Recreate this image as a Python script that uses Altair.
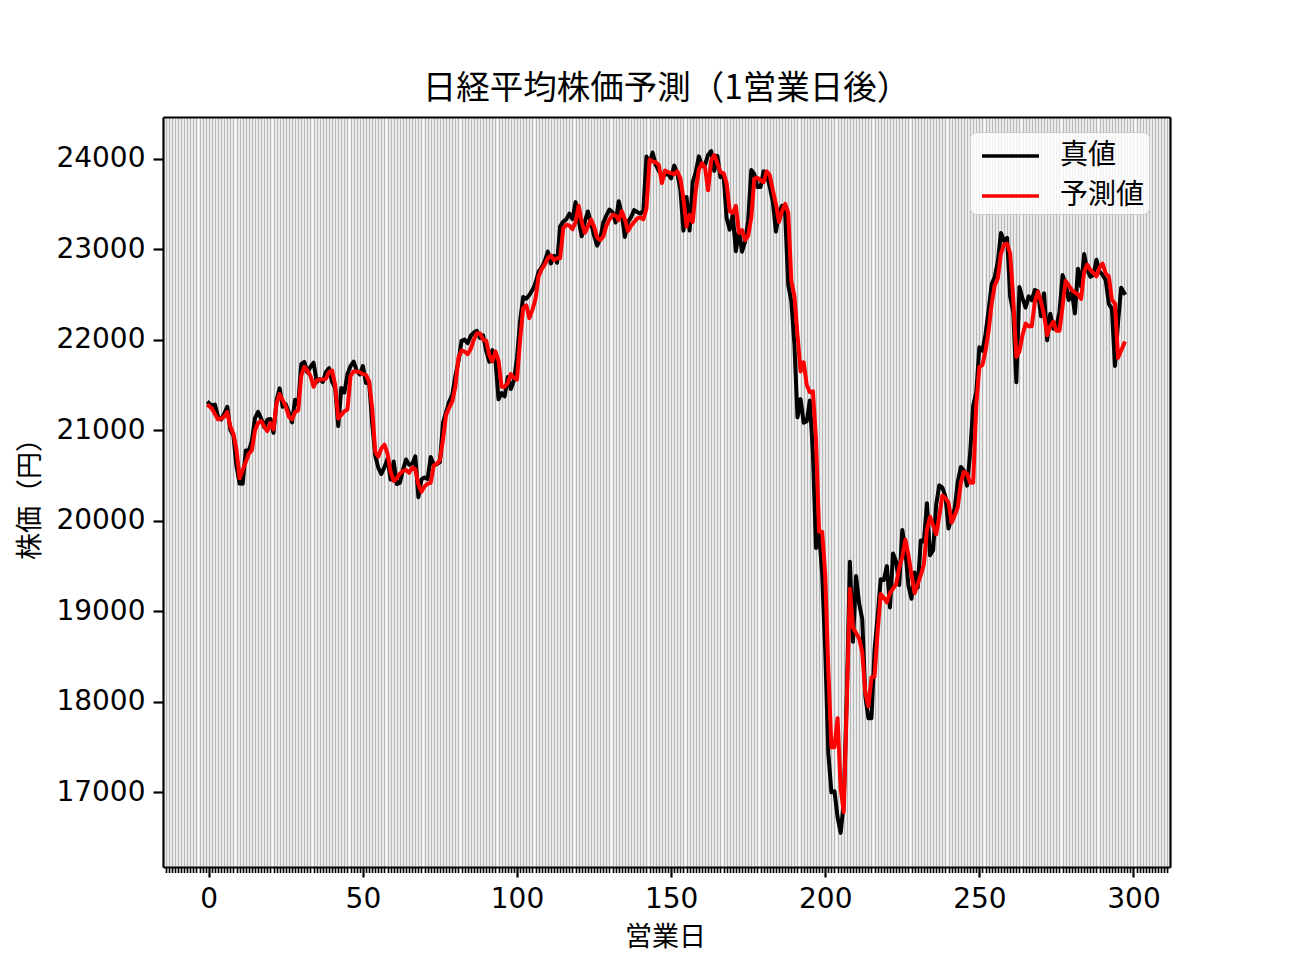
import altair as alt
import pandas as pd

# 営業日 index
days = list(range(298))

# 真値 (actual close)
true_vals = [
    21302, 21272, 21283, 21151, 21117, 21183, 21260, 21003, 20943, 20601,
    20411, 20409, 20776, 20774, 20885, 21134, 21204, 21130, 21032, 21117,
    21124, 20973, 21334, 21463, 21259, 21286, 21194, 21087, 21338, 21276,
    21730, 21754, 21638, 21702, 21746, 21534, 21565, 21533, 21644, 21686,
    21535, 21469, 21046, 21467, 21417, 21621, 21710, 21757, 21658, 21617,
    21709, 21522, 21541, 21087, 20720, 20585, 20517, 20593, 20685, 20455,
    20655, 20406, 20419, 20563, 20677, 20619, 20628, 20711, 20261, 20456,
    20479, 20461, 20704, 20620, 20625, 20649, 21086, 21200, 21318, 21392,
    21598, 21760, 21988, 22001, 21961, 22044, 22079, 22099, 22020, 22048,
    21879, 21756, 21885, 21779, 21342, 21410, 21375, 21588, 21456, 21552,
    21799, 22207, 22473, 22452, 22493, 22549, 22625, 22751, 22800, 22867,
    22974, 22843, 22927, 22851, 23252, 23304, 23330, 23392, 23332, 23520,
    23320, 23142, 23303, 23417, 23293, 23149, 23039, 23113, 23293, 23373,
    23438, 23409, 23294, 23530, 23380, 23135, 23300, 23354, 23431, 23410,
    23392, 23425, 24023, 23952, 24066, 23934, 23865, 23817, 23821, 23831,
    23783, 23925, 23838, 23657, 23205, 23576, 23205, 23740, 23851, 24025,
    23917, 23933, 24041, 24084, 23865, 24031, 23795, 23827, 23344, 23216,
    23379, 22978, 23205, 22972, 23085, 23320, 23874, 23828, 23686, 23686,
    23861, 23828, 23688, 23523, 23194, 23401, 23479, 23387, 22605, 22426,
    21948, 21143, 21344, 21083, 21100, 21329, 20750, 19699, 19867, 19416,
    18560, 17431, 17002, 17012, 16727, 16553, 16888, 18092, 19547, 18665,
    19389, 19085, 18917, 18065, 17819, 17820, 18576, 18950, 19353, 19346,
    19499, 19043, 19639, 19550, 19290, 19897, 19669, 19281, 19138, 19429,
    19262, 19783, 19771, 20194, 19619, 19675, 20179, 20391, 20366, 20267,
    19915, 20037, 20134, 20433, 20595, 20552, 20388, 20742, 21271, 21419,
    21916, 21878, 22062, 22326, 22614, 22696, 22864, 23178, 23091, 23125,
    22473, 22305, 21531, 22582, 22456, 22355, 22479, 22437, 22549, 22534,
    22260, 22512, 21995, 22288, 22122, 22146, 22306, 22714, 22615, 22439,
    22529, 22291, 22785, 22587, 22946, 22770, 22696, 22717, 22884, 22752,
    22716, 22657, 22397, 22339, 21710, 22195, 22574, 22515,
]

# 予測値 (prediction)
pred_vals = [
    21270, 21240, 21180, 21120, 21130, 21150, 21200, 21040, 20960, 20780,
    20470, 20560, 20650, 20740, 20780, 21000, 21080, 21100, 21040, 20990,
    21080, 21010, 21300, 21400, 21330, 21260, 21150, 21120, 21200, 21220,
    21600, 21700, 21660, 21600, 21480, 21550, 21560, 21560, 21570, 21640,
    21660, 21500, 21130, 21170, 21210, 21230, 21600, 21650, 21650, 21640,
    21620, 21611, 21540, 21250, 20760, 20710, 20800, 20840, 20740, 20540,
    20440, 20470, 20520, 20550, 20560, 20530, 20590, 20570, 20400, 20320,
    20380, 20410, 20420, 20610, 20630, 20670, 20900, 21170, 21250, 21320,
    21480, 21800, 21880, 21870, 21840, 21900, 22000, 22070, 22070, 22000,
    21990, 21830, 21760, 21870, 21770, 21480, 21480, 21520, 21620, 21580,
    21560, 22000, 22350, 22380, 22240, 22330, 22450, 22700, 22780, 22830,
    22900, 22930, 22880, 22900, 22900, 23230, 23270, 23260, 23220, 23300,
    23480, 23300, 23180, 23250, 23330, 23250, 23130, 23100, 23140, 23260,
    23330, 23380, 23370, 23320, 23420, 23330, 23200, 23260, 23300, 23340,
    23350, 23330, 23450, 23990, 23970, 23960, 23930, 23730, 23870, 23850,
    23840, 23830, 23860, 23780, 23560, 23250, 23380, 23300, 23650, 23880,
    23950, 23900, 23650, 23980, 24040, 23950, 23850, 23840, 23730, 23420,
    23400, 23480, 23180, 23210, 23100, 23150, 23350, 23780, 23790, 23760,
    23740, 23860, 23820, 23650, 23500, 23300, 23420, 23500, 23400, 22650,
    22480, 22050, 21650, 21750, 21500, 21420, 21430, 20900, 19880, 19880,
    19400, 18350, 17500, 17500, 17820, 17050, 16780, 18000, 19250, 18820,
    18760, 18700, 18550, 18100, 17950, 18270, 18280, 18780, 19190, 19150,
    19100, 19200, 19250, 19300, 19480, 19600, 19790, 19620, 19400, 19200,
    19300, 19400, 19520, 19900, 20045, 19950, 19850, 20050, 20280, 20250,
    20200, 19980, 20060, 20150, 20420, 20540, 20520, 20420, 20420, 21280,
    21700, 21720, 21880, 22100, 22400, 22600, 22680, 22950, 23050, 23060,
    22950, 22450, 21810, 21870, 22050, 22180, 22150, 22150, 22420, 22530,
    22420, 22270, 22050, 22150, 22200, 22100, 22100, 22370, 22650, 22600,
    22550, 22520, 22500, 22450, 22750, 22830, 22770, 22740, 22700, 22800,
    22840, 22730, 22700, 22440, 22400, 21800, 21880, 21960,
]

series_names = ["真値", "予測値"]
series_colors = ["#000000", "#ff0000"]

x_tick_values = list(range(-14, 312))
y_tick_values = [17000, 18000, 19000, 20000, 21000, 22000, 23000, 24000]

df = pd.DataFrame({"day": days, "真値": true_vals, "予測値": pred_vals})

JP = "Noto Sans CJK JP"
NUM = "DejaVu Sans"

x_scale = alt.Scale(domain=[-14.85, 311.85], nice=False, zero=False)
y_scale = alt.Scale(domain=[16176, 24460], nice=False, zero=False)

lines = (
    alt.Chart(df)
    .transform_fold(series_names, as_=["series", "value"])
    .mark_line(strokeWidth=4, strokeJoin="round", strokeCap="square", clip=True)
    .encode(
        x=alt.X(
            "day:Q",
            scale=x_scale,
            axis=alt.Axis(
                values=x_tick_values,
                format="d",
                grid=True,
                gridColor="#b8b8b8",
                gridWidth=1.6,
                domain=True,
                domainColor="black",
                domainWidth=2.2,
                tickColor="black",
                tickSize={"condition": {"test": "datum.value % 50 === 0", "value": 10}, "value": 5.5},
                tickWidth={"condition": {"test": "datum.value % 50 === 0", "value": 2.2}, "value": 1.7},
                labelExpr="datum.value % 50 === 0 ? datum.label : ''",
                labelOverlap=False,
                labelFlush=False,
                labelFont=NUM,
                labelFontSize=28,
                labelColor="black",
                labelPadding=8,
                title="営業日",
                titleFont=JP,
                titleFontSize=27,
                titleFontWeight="normal",
                titleColor="black",
                titleX=502,
                titleY=70,
                titleAlign="center",
                titleBaseline="middle",
            ),
        ),
        y=alt.Y(
            "value:Q",
            scale=y_scale,
            axis=alt.Axis(
                values=y_tick_values,
                format="d",
                grid=False,
                domain=True,
                domainColor="black",
                domainWidth=2.2,
                tickColor="black",
                tickSize=10,
                tickWidth=2.2,
                labelFont=NUM,
                labelFontSize=28,
                labelColor="black",
                labelPadding=8,
                title="株価（円）",
                titleFont=JP,
                titleFontSize=27,
                titleFontWeight="normal",
                titleColor="black",
                titleX=-133,
                titleY=375,
                titleAngle=270,
                titleAlign="center",
                titleBaseline="middle",
            ),
        ),
        color=alt.Color(
            "series:N",
            scale=alt.Scale(domain=series_names, range=series_colors),
            legend=alt.Legend(
                orient="none",
                legendX=807,
                legendY=15,
                title=None,
                symbolType="M-0.667,0H2.5",
                symbolSize=1296,
                symbolStrokeWidth=3.5,
                labelOffset=46,
                padding=4,
                rowPadding=6,
                fillColor="rgba(255,255,255,0.8)",
                strokeColor="#cccccc",
                cornerRadius=6,
                labelFont=JP,
                labelFontSize=28,
                labelColor="black",
            ),
        ),
        detail="series:N",
    )
)

# top / right spines of the axes frame
frame = (
    alt.Chart(df)
    .mark_line(opacity=0)
    .encode(
        x=alt.X(
            "day:Q",
            scale=x_scale,
            axis=alt.Axis(
                orient="top", labels=False, ticks=False, grid=False,
                domain=True, domainColor="black", domainWidth=2.2, title=None,
            ),
        ),
        y=alt.Y(
            "真値:Q",
            scale=y_scale,
            axis=alt.Axis(
                orient="right", labels=False, ticks=False, grid=False,
                domain=True, domainColor="black", domainWidth=2.2, title=None,
            ),
        ),
    )
)

chart = (
    alt.layer(lines, frame)
    .resolve_axis(x="independent", y="independent")
    .properties(
        width=1007,
        height=750,
        title=alt.TitleParams(
            "日経平均株価予測（1営業日後）",
            font=JP,
            fontSize=33.5,
            fontWeight="normal",
            color="black",
            anchor="middle",
            offset=11,
        ),
        autosize=alt.AutoSizeParams(type="none"),
        padding={"left": 155, "top": 109, "right": 122, "bottom": 100},
    )
    .configure_view(stroke="black", strokeWidth=2.5, fill="white")
    .configure(background="white")
)

chart.save("out.html", embed_options={"renderer": "svg", "actions": False})
